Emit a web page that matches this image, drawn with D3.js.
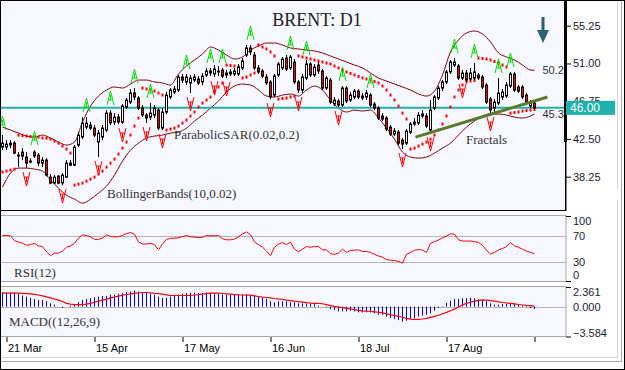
<!DOCTYPE html>
<html>
<head>
<meta charset="utf-8">
<style>
  body { margin: 0px; background: #ffffff; }
</style>
</head>
<body>
<script src="https://cdn.jsdelivr.net/npm/d3@7"></script>
<script>

// *** DATA ***

var dateLabels = ["21 Mar", "15 Apr", "17 May", "16 Jun", "18 Jul", "17 Aug", ""];
var dateTickBars = [1, 23, 45, 67, 89, 111, 133];
var priceTicks = [38.25, 42.5, 46.75, 51.0, 55.25];
var rsiTicks = [100, 70, 30, 0];
var macdTicks = [2.361, 0, -3.584];
var lastPrice = 46.00;

var open = [
  41.58, 41.58, 41.81, 42.03, 40.57, 41.02, 40.46, 39.89, 41.02, 40.68,
  39.78, 40.12, 38.20, 37.53, 38.31, 37.53, 38.20, 39.78, 39.55, 41.81,
  42.71, 43.84, 44.06, 43.72, 42.15, 42.71, 43.50, 45.41, 44.40, 44.96,
  44.40, 46.09, 46.65, 47.67, 47.11, 45.98, 45.19, 44.96, 45.19, 45.75,
  43.72, 45.53, 47.22, 47.78, 48.01, 49.47, 48.91, 48.80, 49.13, 49.25,
  48.91, 49.70, 50.15, 49.81, 50.04, 50.26, 49.70, 49.81, 49.81, 49.81,
  50.49, 51.95, 52.74, 51.95, 50.49, 50.15, 49.47, 48.91, 47.44, 49.70,
  50.49, 51.61, 50.49, 51.16, 48.91, 48.01, 49.36, 50.94, 49.70, 50.82,
  50.15, 48.23, 49.13, 46.43, 46.77, 46.32, 48.23, 46.88, 47.22, 47.89,
  47.11, 47.22, 47.44, 46.43, 45.98, 45.08, 44.85, 43.84, 43.05, 43.27,
  42.37, 42.03, 43.27, 44.18, 44.29, 45.30, 45.08, 43.50, 45.98, 47.11,
  48.23, 48.91, 50.04, 50.82, 50.71, 49.36, 49.92, 49.25, 49.36, 49.70,
  49.47, 48.57, 46.99, 45.98, 46.54, 47.22, 47.33, 48.46, 49.81, 48.35,
  48.35, 47.44, 46.20, 46.54
];
var high = [
  42.94, 42.37, 42.37, 42.26, 41.02, 41.47, 41.02, 40.34, 41.24, 40.91,
  40.46, 40.34, 38.54, 38.43, 38.43, 38.65, 40.12, 40.12, 41.81, 43.27,
  44.96, 44.96, 44.40, 44.06, 43.50, 44.06, 45.75, 45.75, 45.41, 45.30,
  46.43, 47.11, 48.12, 48.23, 47.33, 46.32, 45.41, 46.54, 46.32, 45.98,
  45.98, 47.78, 48.23, 48.46, 49.70, 49.81, 49.81, 49.70, 49.81, 49.58,
  49.92, 50.49, 50.49, 50.82, 50.71, 50.49, 50.26, 50.37, 50.49, 50.94,
  51.61, 53.08, 53.08, 52.29, 50.82, 50.37, 49.81, 49.13, 49.81, 51.16,
  51.73, 51.95, 51.95, 51.50, 49.13, 49.81, 51.39, 51.16, 50.94, 51.16,
  50.37, 49.58, 49.36, 47.22, 46.99, 48.46, 48.46, 47.78, 48.12, 48.12,
  47.67, 48.01, 47.67, 46.65, 46.20, 45.41, 45.08, 44.06, 43.72, 43.50,
  42.60, 43.61, 44.40, 44.85, 45.53, 45.75, 45.41, 46.88, 47.44, 48.46,
  49.13, 50.26, 51.39, 51.61, 50.94, 50.26, 50.26, 50.49, 51.05, 49.92,
  49.70, 48.80, 47.22, 46.99, 49.36, 48.12, 48.91, 50.04, 50.04, 48.57,
  48.57, 47.67, 46.88, 46.77
];
var low = [
  41.24, 41.24, 41.47, 40.79, 39.33, 40.12, 39.22, 39.78, 40.34, 39.44,
  39.33, 38.31, 37.41, 37.41, 37.41, 37.30, 38.09, 39.44, 39.44, 41.58,
  42.48, 43.61, 43.50, 42.71, 40.46, 42.37, 43.27, 44.06, 44.06, 44.18,
  44.18, 45.87, 46.43, 46.88, 45.75, 44.96, 44.29, 44.63, 44.85, 43.50,
  43.50, 45.30, 46.99, 47.56, 47.78, 48.80, 48.57, 47.67, 48.91, 48.57,
  48.57, 49.47, 49.58, 49.47, 49.58, 49.36, 49.36, 49.58, 49.58, 49.58,
  50.26, 51.73, 51.95, 50.26, 49.81, 49.36, 48.57, 46.99, 47.22, 49.47,
  50.26, 50.15, 50.26, 48.68, 47.67, 47.67, 49.13, 49.47, 49.47, 49.81,
  48.01, 48.01, 46.43, 46.20, 46.09, 46.09, 46.54, 46.65, 46.99, 46.99,
  46.88, 46.88, 46.09, 45.75, 44.63, 44.51, 43.39, 42.82, 42.82, 41.81,
  41.36, 41.81, 43.05, 43.95, 44.06, 44.85, 43.72, 43.16, 45.75, 46.88,
  47.89, 48.68, 49.81, 50.60, 49.13, 49.13, 48.91, 49.02, 49.13, 49.13,
  48.12, 46.43, 45.41, 45.53, 46.32, 46.88, 47.11, 48.23, 47.78, 47.67,
  46.99, 46.32, 45.98, 45.87
];
var close = [
  42.03, 41.92, 42.03, 40.91, 40.68, 40.57, 39.78, 40.01, 40.57, 39.78,
  40.12, 38.43, 37.53, 38.20, 37.53, 38.43, 39.78, 39.55, 41.58, 42.94,
  44.29, 44.29, 43.72, 42.94, 43.16, 43.72, 45.41, 44.29, 44.96, 44.40,
  46.20, 46.88, 47.67, 47.22, 45.98, 45.19, 44.85, 45.41, 45.98, 43.72,
  45.53, 47.44, 48.01, 48.12, 49.47, 49.13, 49.47, 49.36, 49.47, 48.80,
  49.58, 50.15, 49.92, 50.37, 50.15, 49.58, 49.92, 50.04, 50.15, 50.60,
  51.28, 52.74, 52.29, 50.49, 50.04, 49.58, 48.80, 47.22, 49.58, 50.94,
  51.50, 50.37, 51.73, 48.91, 48.01, 49.47, 50.94, 49.70, 50.60, 50.15,
  48.23, 49.36, 46.65, 46.88, 46.32, 48.23, 46.77, 47.44, 47.89, 47.22,
  47.33, 47.67, 46.32, 45.98, 44.85, 44.74, 43.61, 43.05, 43.39, 42.03,
  41.92, 43.39, 44.18, 44.40, 45.19, 45.08, 43.95, 45.75, 47.22, 48.23,
  48.91, 50.04, 51.16, 51.16, 49.36, 49.92, 49.13, 49.92, 50.04, 49.36,
  48.35, 46.65, 45.75, 46.65, 47.67, 47.78, 48.57, 49.81, 48.01, 47.89,
  47.22, 46.54, 46.54, 46.00
];

// Parabolic SAR, one dot per bar
var sar = [
  38.77, 38.88, 38.99, 39.10, 42.93, 42.88, 42.82, 42.77, 42.71, 42.71,
  42.60, 42.60, 42.48, 42.26, 42.03, 41.70, 41.36, 40.91, 37.30, 37.41,
  37.53, 37.75, 37.98, 38.20, 38.54, 38.88, 39.33, 39.78, 40.23, 40.79,
  41.47, 42.15, 42.94, 43.95, 44.85, 48.23, 48.12, 48.01, 47.89, 47.67,
  47.44, 43.50, 43.61, 43.72, 43.95, 44.29, 44.63, 45.08, 45.53, 46.09,
  46.54, 46.88, 47.22, 47.78, 48.35, 48.80, 50.82, 50.77, 50.71, 50.60,
  49.36, 49.47, 49.70, 49.92, 53.08, 52.85, 52.63, 52.29, 51.84, 46.99,
  47.05, 47.11, 47.22, 47.33, 51.84, 51.73, 51.61, 51.50, 51.39, 51.28,
  51.16, 51.05, 50.94, 50.71, 50.49, 50.26, 50.04, 49.87, 49.70, 49.53,
  49.36, 49.25, 49.13, 48.96, 48.80, 48.46, 48.01, 47.44, 46.88, 46.20,
  45.41, 44.74, 41.36, 41.47, 41.70, 41.92, 42.15, 42.48, 42.94, 43.50,
  44.18, 45.08, 46.09, 47.22, 48.01, 48.57, 48.91, 49.02, 49.08, 51.61,
  51.56, 51.50, 51.39, 51.22, 51.05, 50.82, 50.60, 45.41, 45.47, 45.53,
  45.64, 45.70, 45.75, 45.81
];

// Bollinger bands, read every second bar (plus the last one)
var bandBars = d3.range(0, 133, 2).concat([133]);
var upperBand = [
  43.84, 43.50, 43.16, 42.82, 42.71, 42.94, 42.60, 42.15, 41.81, 42.15,
  44.40, 46.20, 47.33, 48.01, 48.35, 48.23, 48.68, 49.13, 49.13, 48.91,
  48.80, 48.57, 49.81, 50.71, 51.39, 52.06, 52.85, 52.51, 51.95, 51.50,
  51.73, 52.51, 52.97, 53.30, 53.30, 53.08, 52.74, 52.63, 52.51, 52.40,
  52.18, 51.84, 51.50, 51.16, 50.82, 50.49, 49.92, 49.36, 49.02, 48.68,
  48.35, 48.01, 47.56, 47.33, 47.89, 49.70, 52.29, 53.64, 54.43, 54.65,
  54.32, 53.42, 52.18, 51.73, 51.39, 50.82, 50.26, 50.23
];
var lowerBand = [
  37.08, 38.65, 39.22, 39.22, 39.10, 38.88, 37.86, 36.96, 36.17, 35.72,
  35.27, 35.72, 36.40, 37.19, 38.43, 40.01, 41.24, 42.03, 42.60, 42.82,
  42.94, 43.16, 43.27, 43.72, 44.51, 45.19, 45.98, 46.77, 47.78, 48.46,
  48.68, 48.57, 48.01, 47.33, 47.22, 47.44, 47.56, 47.33, 48.01, 48.46,
  48.01, 46.88, 45.98, 45.53, 45.75, 45.64, 45.75, 44.85, 43.72, 42.48,
  41.02, 40.46, 40.34, 40.46, 40.91, 41.47, 42.03, 42.94, 43.84, 44.51,
  45.08, 45.30, 45.30, 45.19, 44.96, 44.85, 45.08, 45.32
];

// Fractal bars
var upFractals = [0, 8, 21, 27, 33, 37, 46, 52, 55, 62, 72, 76, 85, 92, 113, 118, 124, 127];
var downFractals = [6, 15, 24, 30, 36, 40, 47, 53, 56, 67, 74, 84, 100, 107, 115, 122];

// trend line (bar, price)
var trendBars = [103.25, 136.25];
var trendPrices = [42.71, 47.22];

var rsi = [
  70, 70, 69.5, 62, 60, 58, 55, 56, 58, 54,
  53, 45, 39, 43, 43, 46, 52, 54, 58, 66,
  71, 70, 68, 64, 64, 66, 71, 68.5, 68, 68,
  70, 73, 74.6, 72, 60, 57, 57, 58, 56, 48,
  57, 64, 65.5, 66, 66.5, 68.5, 70, 68, 67.5, 67,
  67, 70, 69.5, 69.5, 70, 65, 63.4, 63.4, 64.5, 68,
  72.6, 75.5, 71, 60, 56, 52, 46, 39.3, 52, 57,
  59, 56, 59.8, 49, 45, 49, 53, 52, 53, 53,
  48, 48, 42, 41, 43, 49, 44, 47, 47.5, 48,
  45.4, 45.4, 44, 41, 38.5, 36.7, 33, 32, 31.5, 30,
  27.5, 41, 44, 47, 48.5, 47.5, 44, 58, 60.5, 63,
  66.5, 69, 72.6, 72, 63.4, 61.5, 61.4, 61.5, 60.5, 59.3,
  55, 47, 41.5, 44, 48, 50, 53, 59, 54, 52,
  49, 46, 44, 42
];

var macdHist = [
  1.74, 1.74, 1.74, 1.74, 1.55, 1.34, 1.21, 1.05, 0.93, 0.81,
  0.81, 0.65, 0.40, 0.24, 0.00, -0.16, 0.00, 0.12, 0.24, 0.53,
  0.81, 0.93, 1.05, 1.13, 1.21, 1.29, 1.29, 1.46, 1.46, 1.55,
  1.63, 1.74, 1.82, 1.94, 1.82, 1.74, 1.74, 1.55, 1.42, 1.21,
  1.05, 1.05, 1.21, 1.34, 1.46, 1.55, 1.63, 1.70, 1.70, 1.63,
  1.63, 1.70, 1.70, 1.63, 1.55, 1.46, 1.46, 1.46, 1.46, 1.46,
  1.46, 1.46, 1.34, 1.34, 1.21, 1.05, 0.93, 0.65, 0.53, 0.65,
  0.65, 0.65, 0.53, 0.53, 0.40, 0.38, 0.38, 0.30, 0.30, 0.12,
  0.00, -0.08, -0.32, -0.40, -0.57, -0.57, -0.57, -0.49, -0.57, -0.69,
  -0.69, -0.69, -0.69, -0.81, -0.97, -0.97, -1.21, -1.38, -1.50, -1.62,
  -1.78, -1.70, -1.50, -1.38, -1.21, -1.09, -0.97, -0.81, -0.49, -0.16,
  0.06, 0.46, 0.73, 0.93, 0.93, 1.01, 1.01, 1.05, 1.01, 0.89,
  0.81, 0.65, 0.40, 0.24, 0.24, 0.32, 0.32, 0.32, 0.40, 0.24,
  0.12, 0.12, -0.16, -0.28
];
var macdSignal = [
  1.62, 1.62, 1.62, 1.62, 1.62, 1.60, 1.57, 1.54, 1.48, 1.40,
  1.30, 1.18, 1.05, 0.92, 0.78, 0.62, 0.40, 0.30, 0.24, 0.24,
  0.24, 0.30, 0.40, 0.53, 0.66, 0.78, 0.88, 1.05, 1.15, 1.27,
  1.38, 1.46, 1.54, 1.60, 1.66, 1.70, 1.70, 1.66, 1.60, 1.56,
  1.50, 1.42, 1.34, 1.34, 1.34, 1.34, 1.34, 1.34, 1.40, 1.44,
  1.50, 1.56, 1.62, 1.62, 1.62, 1.58, 1.54, 1.50, 1.46, 1.42,
  1.40, 1.38, 1.38, 1.30, 1.22, 1.15, 1.10, 1.05, 0.98, 0.93,
  0.86, 0.78, 0.73, 0.66, 0.61, 0.55, 0.48, 0.43, 0.40, 0.40,
  0.35, 0.24, 0.12, 0.04, -0.04, -0.12, -0.20, -0.28, -0.36, -0.45,
  -0.51, -0.55, -0.57, -0.62, -0.67, -0.75, -0.86, -0.97, -1.07, -1.17,
  -1.27, -1.40, -1.50, -1.52, -1.52, -1.48, -1.40, -1.29, -1.17, -1.03,
  -0.85, -0.68, -0.49, -0.30, -0.05, 0.20, 0.40, 0.53, 0.66, 0.76,
  0.81, 0.79, 0.73, 0.66, 0.57, 0.50, 0.45, 0.40, 0.33, 0.26,
  0.20, 0.15, 0.12, 0.04
];

// *** LAYOUT ***

var W = 625, H = 370;
var plotRight = 565.5;
var sansFont = "'Liberation Sans', Arial, sans-serif";
var serifFont = "'Liberation Serif', 'Times New Roman', serif";
var panelFill = "#f7f8ff";

var x = d3.scaleLinear().domain([0, 133]).range([2.5, 534.5]);
var yP = d3.scaleLinear().domain([38.25, 55.25]).range([176.7, 25.7]);
var yR = d3.scaleLinear().domain([0, 100]).range([281, 216]);
var yM = d3.scaleLinear().domain([-3.584, 2.361]).range([336.5, 287]);

var svg = d3.select("body").append("svg")
  .attr("width", W)
  .attr("height", H);

svg.append("rect").attr("width", W).attr("height", H).attr("fill", "#ffffff");

// window frame lines
svg.append("line").attr("x1", 617.5).attr("x2", 617.5).attr("y1", 1).attr("y2", 358)
  .attr("stroke", "#d6d6d6");
svg.append("line").attr("x1", 621.5).attr("x2", 621.5).attr("y1", 1).attr("y2", 362)
  .attr("stroke", "#a8a8a8");
svg.append("line").attr("x1", 1).attr("x2", 618).attr("y1", 357.5).attr("y2", 357.5)
  .attr("stroke", "#d6d6d6");
svg.append("line").attr("x1", 1).attr("x2", 622).attr("y1", 361.5).attr("y2", 361.5)
  .attr("stroke", "#a8a8a8");
svg.append("rect").attr("x", 615).attr("y", 189).attr("width", 5).attr("height", 11)
  .attr("fill", "#ffffff");

// panels
svg.append("rect").attr("x", 0.5).attr("y", 0.5).attr("width", plotRight).attr("height", 210)
  .attr("fill", panelFill).attr("stroke", "#000");
svg.append("rect").attr("x", 0.5).attr("y", 215.5).attr("width", plotRight).attr("height", 66)
  .attr("fill", panelFill).attr("stroke", "#a8a8a8");
svg.append("rect").attr("x", 0.5).attr("y", 286.5).attr("width", plotRight).attr("height", 50)
  .attr("fill", panelFill).attr("stroke", "#a8a8a8");

svg.append("clipPath").attr("id", "mainClip")
  .append("rect").attr("x", 1).attr("y", 1).attr("width", plotRight - 1).attr("height", 209);

var main = svg.append("g").attr("clip-path", "url(#mainClip)");

// *** MAIN PANEL ***

// Bollinger bands
var bandLine = function(vals) {
  return d3.line()
    .x(function(d, i) { return x(bandBars[i]); })
    .y(function(d) { return yP(d); })
    .curve(d3.curveMonotoneX)(vals);
};
main.append("path").attr("d", bandLine(upperBand))
  .attr("fill", "none").attr("stroke", "#800000").attr("stroke-width", 1);
main.append("path").attr("d", bandLine(lowerBand))
  .attr("fill", "none").attr("stroke", "#800000").attr("stroke-width", 1);

// last price line
main.append("line")
  .attr("x1", 0).attr("x2", plotRight)
  .attr("y1", yP(lastPrice)).attr("y2", yP(lastPrice))
  .attr("stroke", "#20b2aa").attr("stroke-width", 2);

// parabolic SAR
main.selectAll("rect.sar").data(sar).enter().append("rect")
  .attr("class", "sar")
  .attr("x", function(d, i) { return x(i) - 1; })
  .attr("y", function(d) { return yP(d) - 1.5; })
  .attr("width", 2).attr("height", 3)
  .attr("fill", "#ff0000");

// candles
var bars = d3.range(open.length);
main.selectAll("line.wick").data(bars).enter().append("line")
  .attr("class", "wick")
  .attr("x1", function(i) { return x(i); })
  .attr("x2", function(i) { return x(i); })
  .attr("y1", function(i) { return yP(high[i]); })
  .attr("y2", function(i) { return yP(low[i]); })
  .attr("stroke", "#000").attr("stroke-width", 1);

main.selectAll("rect.body").data(bars).enter().append("rect")
  .attr("class", "body")
  .attr("x", function(i) { return x(i) - 1; })
  .attr("y", function(i) { return yP(Math.max(open[i], close[i])); })
  .attr("width", 2)
  .attr("height", function(i) { return Math.max(1, Math.abs(yP(open[i]) - yP(close[i]))); })
  .attr("fill", function(i) { return close[i] >= open[i] ? "#ffffff" : "#ff0000"; })
  .attr("stroke", "#000").attr("stroke-width", 1);

// fractals (thin "A" above highs, "V" below lows)
function upGlyph(cx, yb) {
  var yt = yb - 14;
  return "M" + (cx - 3.5) + "," + yb + "L" + cx + "," + yt + "L" + (cx + 3.5) + "," + yb +
         "M" + (cx - 2) + "," + (yb - 5) + "L" + (cx + 2) + "," + (yb - 5) +
         "M" + cx + "," + (yt + 4) + "L" + cx + "," + (yb - 5);
}
function downGlyph(cx, yt) {
  var yb = yt + 14;
  return "M" + (cx - 3.5) + "," + yt + "L" + cx + "," + yb + "L" + (cx + 3.5) + "," + yt +
         "M" + (cx - 2) + "," + (yt + 5) + "L" + (cx + 2) + "," + (yt + 5) +
         "M" + cx + "," + (yb - 4) + "L" + cx + "," + (yt + 5);
}
main.selectAll("path.upf").data(upFractals).enter().append("path")
  .attr("class", "upf")
  .attr("d", function(b) { return upGlyph(x(b), yP(high[b]) - 5); })
  .attr("fill", "none").attr("stroke", "#00dd00").attr("stroke-width", 1);
main.selectAll("path.dnf").data(downFractals).enter().append("path")
  .attr("class", "dnf")
  .attr("d", function(b) { return downGlyph(x(b), yP(low[b]) + 4); })
  .attr("fill", "none").attr("stroke", "#ff0000").attr("stroke-width", 1);

// trend line
main.append("line")
  .attr("x1", x(trendBars[0])).attr("y1", yP(trendPrices[0]))
  .attr("x2", x(trendBars[1])).attr("y2", yP(trendPrices[1]))
  .attr("stroke", "#5a7a2c").attr("stroke-width", 3);

// band end values
main.append("text")
  .attr("x", x(133) + 8).attr("y", yP(upperBand[upperBand.length - 1]) + 4)
  .style("font-family", sansFont).style("font-size", "11px").attr("fill", "#333")
  .text(d3.format(".2f")(upperBand[upperBand.length - 1]));
main.append("text")
  .attr("x", x(133) + 8).attr("y", yP(lowerBand[lowerBand.length - 1]) + 4)
  .style("font-family", sansFont).style("font-size", "11px").attr("fill", "#333")
  .text(d3.format(".2f")(lowerBand[lowerBand.length - 1]));

// down arrow
var ax = x(133) + 8.5;
main.append("rect").attr("x", ax - 1.5).attr("y", 17).attr("width", 3).attr("height", 15)
  .attr("fill", "#2f5f74");
main.append("path")
  .attr("d", "M" + (ax - 6) + ",30L" + (ax + 6) + ",30L" + ax + ",43Z")
  .attr("fill", "#2f5f74");

// labels
svg.append("text").attr("x", 317).attr("y", 26).attr("text-anchor", "middle")
  .style("font-family", serifFont).style("font-size", "18px").attr("fill", "#222")
  .text("BRENT: D1");
svg.append("text").attr("x", 174).attr("y", 139)
  .style("font-family", serifFont).style("font-size", "13px").attr("fill", "#333")
  .text("ParabolicSAR(0.02,0.2)");
svg.append("text").attr("x", 107).attr("y", 198)
  .style("font-family", serifFont).style("font-size", "13px").attr("fill", "#333")
  .text("BollingerBands(10,0.02)");
svg.append("text").attr("x", 466).attr("y", 144)
  .style("font-family", serifFont).style("font-size", "13px").attr("fill", "#333")
  .text("Fractals");

// right price axis
var pAxis = svg.append("g").attr("transform", "translate(566,0)")
  .call(d3.axisRight(yP).tickValues(priceTicks).tickSize(5).tickPadding(2)
    .tickFormat(d3.format(".2f")));
pAxis.select(".domain").remove();
pAxis.selectAll("text").style("font-family", sansFont).style("font-size", "11px")
  .attr("fill", "#1a1a33");

// axis spine (thick at top part)
svg.append("line").attr("x1", plotRight).attr("x2", plotRight).attr("y1", 0).attr("y2", 210.5)
  .attr("stroke", "#000");
svg.append("rect").attr("x", 564).attr("y", 0).attr("width", 3).attr("height", 142)
  .attr("fill", "#000");

// last price box (covers the lower half of the 46.75 label, as in the original)
svg.append("rect").attr("x", 566).attr("y", yP(lastPrice) - 7).attr("width", 49).attr("height", 14)
  .attr("fill", "#20b2aa");
svg.append("text").attr("x", 570).attr("y", yP(lastPrice) + 4)
  .style("font-family", sansFont).style("font-size", "12px").attr("fill", "#ffffff")
  .text(d3.format(".2f")(lastPrice));

// *** RSI PANEL ***

svg.selectAll("line.rsigrid").data([70, 30]).enter().append("line")
  .attr("class", "rsigrid")
  .attr("x1", 1).attr("x2", plotRight)
  .attr("y1", function(d) { return Math.round(yR(d)) + 0.5; })
  .attr("y2", function(d) { return Math.round(yR(d)) + 0.5; })
  .attr("stroke", "#b4b4b4");

svg.append("path")
  .attr("d", d3.line().x(function(d, i) { return x(i); }).y(function(d) { return yR(d); })(rsi))
  .attr("fill", "none").attr("stroke", "#ff0000").attr("stroke-width", 1);

svg.append("text").attr("x", 14).attr("y", 277)
  .style("font-family", serifFont).style("font-size", "13px").attr("fill", "#333")
  .text("RSI(12)");

var rAxis = svg.append("g").attr("transform", "translate(566,0)")
  .call(d3.axisRight(yR).tickValues(rsiTicks).tickSize(5).tickPadding(2));
rAxis.select(".domain").remove();
rAxis.selectAll(".tick line").attr("stroke", function(d) { return (d === 100 || d === 0) ? "#000" : "none"; });
rAxis.selectAll("text").style("font-family", sansFont).style("font-size", "11px")
  .attr("fill", "#1a1a33")
  .attr("dy", function(d) { return d === 100 ? "0.75em" : (d === 0 ? "-0.2em" : "0.32em"); });

// *** MACD PANEL ***

svg.append("line").attr("x1", 1).attr("x2", plotRight)
  .attr("y1", Math.round(yM(0)) + 0.5).attr("y2", Math.round(yM(0)) + 0.5)
  .attr("stroke", "#b4b4b4");

svg.selectAll("line.hist").data(macdHist).enter().append("line")
  .attr("class", "hist")
  .attr("x1", function(d, i) { return x(i); })
  .attr("x2", function(d, i) { return x(i); })
  .attr("y1", yM(0))
  .attr("y2", function(d) { return yM(d); })
  .attr("stroke", "#0000ff").attr("stroke-width", 1);

svg.append("path")
  .attr("d", d3.line().x(function(d, i) { return x(i); }).y(function(d) { return yM(d); })(macdSignal))
  .attr("fill", "none").attr("stroke", "#ff0000").attr("stroke-width", 1.2);

svg.append("text").attr("x", 9).attr("y", 326)
  .style("font-family", serifFont).style("font-size", "13px").attr("fill", "#333")
  .text("MACD((12,26,9)");

var mAxis = svg.append("g").attr("transform", "translate(566,0)")
  .call(d3.axisRight(yM).tickValues(macdTicks).tickSize(5).tickPadding(2)
    .tickFormat(d3.format(".3f")));
mAxis.select(".domain").remove();
mAxis.selectAll(".tick line").attr("stroke", function(d) { return d === 0 ? "none" : "#000"; });
mAxis.selectAll("text").style("font-family", sansFont).style("font-size", "11px")
  .attr("fill", "#1a1a33")
  .attr("dy", function(d) { return d > 0 ? "0.75em" : (d < 0 ? "0em" : "0.32em"); });

// *** DATE AXIS ***

var dAxis = svg.append("g").attr("transform", "translate(0,337)")
  .call(d3.axisBottom(x).tickValues(dateTickBars).tickSize(5).tickPadding(2)
    .tickFormat(function(d, i) { return dateLabels[i]; }));
dAxis.select(".domain").remove();
dAxis.selectAll("text").style("font-family", sansFont).style("font-size", "11px")
  .attr("fill", "#000").attr("text-anchor", "start").attr("x", 1);

// outer frame
svg.append("rect").attr("x", 0.5).attr("y", 0.5).attr("width", W - 1).attr("height", H - 1)
  .attr("fill", "none").attr("stroke", "#000");

</script>
</body>
</html>
